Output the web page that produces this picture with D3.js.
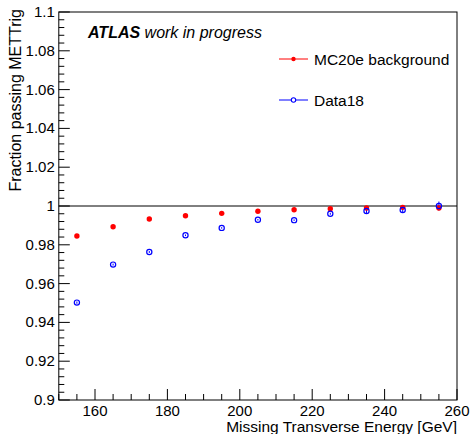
<!DOCTYPE html>
<html><head><meta charset="utf-8">
<script src="https://cdn.jsdelivr.net/npm/d3@7"></script>
<style>body{margin:0;background:#fff}svg{display:block}text{font-family:"Liberation Sans",Arial,sans-serif}</style>
</head><body><svg id="c" width="471" height="434"></svg>
<script>
const xVals = [155,165,175,185,195,205,215,225,235,245,255];
const mcVals = [0.9845,0.9893,0.9933,0.9950,0.9962,0.9973,0.9981,0.9986,0.9990,0.9993,0.9990];
const dataVals = [0.9502,0.9698,0.9763,0.9849,0.9887,0.9929,0.9927,0.9960,0.9974,0.9979,1.0000];
const dataErr = [0.0006,0.0005,0.0005,0.0004,0.0004,0.0004,0.0004,0.0005,0.0010,0.0012,0.0023];
const xTicks = [160,180,200,220,240,260];
const yTicks = [0.9,0.92,0.94,0.96,0.98,1,1.02,1.04,1.06,1.08,1.1];

const svg = d3.select("#c");
const L=58.8,R=457,T=12,B=400;
const x = d3.scaleLinear().domain([150,260]).range([L,R]);
const y = d3.scaleLinear().domain([0.9,1.1]).range([B,T]);

// frame
svg.append("rect").attr("x",L).attr("y",T).attr("width",R-L).attr("height",B-T)
  .attr("fill","none").attr("stroke","#000").attr("stroke-width",1);

// x axis
const xMinor = d3.range(150,260.01,5);
const gx = svg.append("g");
gx.selectAll("line.m").data(xMinor).join("line")
  .attr("x1",d=>x(d)).attr("x2",d=>x(d)).attr("y1",B).attr("y2",d=>B-(d%20===0?11:6))
  .attr("stroke","#000");
gx.selectAll("text").data(xTicks).join("text")
  .attr("x",d=>x(d)).attr("y",B+15.5).attr("text-anchor","middle").attr("font-size",15)
  .text(d=>d);

// y axis
const yMinor = d3.range(0,51).map(i=>0.9+i*0.004);
const gy = svg.append("g");
gy.selectAll("line").data(yMinor).join("line")
  .attr("y1",d=>y(d)).attr("y2",d=>y(d)).attr("x1",L).attr("x2",(d,i)=>L+(i%5===0?11:5.5))
  .attr("stroke","#000");
gy.selectAll("text").data(yTicks).join("text")
  .attr("x",L-4).attr("y",d=>y(d)+5).attr("text-anchor","end").attr("font-size",15)
  .text(d=>d3.format("")(+d.toFixed(2)));

// line at 1
svg.append("line").attr("x1",L).attr("x2",R).attr("y1",y(1)).attr("y2",y(1))
  .attr("stroke","#000").attr("stroke-width",1);

// axis titles
svg.append("text").attr("x",R).attr("y",432).attr("text-anchor","end").attr("font-size",15.5)
  .text("Missing Transverse Energy [GeV]");
svg.append("text").attr("transform",`translate(21,${T-3}) rotate(-90)`).attr("text-anchor","end")
  .attr("font-size",16).text("Fraction passing METTrig");

// data error bars
svg.selectAll("line.err").data(xVals).join("line").attr("class","err")
  .attr("x1",d=>x(d)).attr("x2",d=>x(d))
  .attr("y1",(d,i)=>y(dataVals[i]-dataErr[i])).attr("y2",(d,i)=>y(dataVals[i]+dataErr[i]))
  .attr("stroke","#0000ff").attr("stroke-width",1);

// MC points
svg.selectAll("circle.mc").data(xVals).join("circle").attr("class","mc")
  .attr("cx",d=>x(d)).attr("cy",(d,i)=>y(mcVals[i])).attr("r",2.7).attr("fill","#ff0000");
// data points
svg.selectAll("circle.dt").data(xVals).join("circle").attr("class","dt")
  .attr("cx",d=>x(d)).attr("cy",(d,i)=>y(dataVals[i])).attr("r",2.6)
  .attr("fill","none").attr("stroke","#0000ff").attr("stroke-width",1.2);

// ATLAS label
const at = svg.append("text").attr("x",88).attr("y",38).attr("font-size",16).attr("font-style","italic");
at.append("tspan").attr("font-weight","bold").text("ATLAS");
at.append("tspan").text(" work in progress");

// legend
const leg = [{n:"MC20e background",c:"#ff0000",f:true,y:59},{n:"Data18",c:"#0000ff",f:false,y:100}];
leg.forEach(l=>{
  svg.append("line").attr("x1",279).attr("x2",308).attr("y1",l.y).attr("y2",l.y).attr("stroke",l.c);
  svg.append("circle").attr("cx",293.5).attr("cy",l.y).attr("r",2.2)
    .attr("fill",l.f?l.c:"#fff").attr("stroke",l.f?"none":l.c).attr("stroke-width",1.1);
  svg.append("text").attr("x",314).attr("y",l.y+5.5).attr("font-size",15.5).text(l.n);
});
</script></body></html>
